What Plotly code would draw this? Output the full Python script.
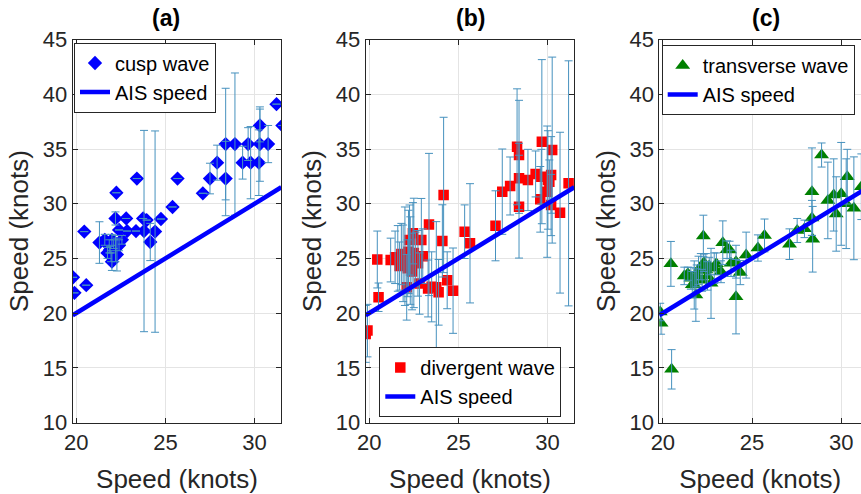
import plotly.graph_objects as go

# ---------------- data ----------------
# Panel (a): cusp wave
cusp_x = [19.82, 19.9, 20.56, 20.45, 21.3, 21.6, 21.75, 21.85, 22.0, 22.0, 22.2, 22.28, 22.2, 22.25,
          22.4, 22.56, 22.8, 22.85, 23.35, 23.4, 23.75, 23.8, 23.95, 24.15, 24.42, 24.75, 25.4, 25.68,
          27.1, 27.5, 27.9, 28.38, 28.38, 28.9, 29.33, 29.64, 29.78, 30.24, 30.3, 30.3, 30.76, 31.23, 31.56,
          21.95, 22.1, 21.9, 22.4]
cusp_y = [23.27, 21.85, 22.55, 27.45, 26.45, 26.7, 25.5, 26.1, 26.7, 24.7, 25.9, 25.35, 28.65, 31.0,
          27.6, 26.7, 28.65, 27.5, 27.5, 32.3, 28.65, 27.5, 28.5, 26.5, 27.45, 28.6, 29.7, 32.3,
          30.95, 32.3, 33.75, 35.45, 32.3, 35.45, 33.75, 35.45, 33.75, 33.75, 35.45, 37.15, 35.45, 39.1, 37.15,
          25.2, 26.3, 25.8, 26.2]
cusp_err = [0, 0, 0, 0, 1.9, 0.5, 0.5, 0.6, 0.5, 0.8, 1.2, 1.5, 0.6, 0,
            0, 0.4, 0, 0, 0, 0, 0, 9.2, 0, 1.7, 9.2, 0, 0, 0,
            0, 1.4, 1.6, 5.1, 3.4, 6.5, 1.5, 1.5, 3.3, 3.0, 3.4, 1.5, 1.7, 0, 0,
            0.5, 0.4, 0.3, 0.5]

# Panel (b): divergent wave
div_x = [19.8, 19.9, 20.45, 20.52, 21.2, 21.45, 21.6, 21.7, 21.8, 21.9, 22.0, 22.1, 22.16, 22.2,
         22.26, 22.3, 22.4, 22.45, 22.5, 22.6, 22.73, 22.82, 22.92, 23.0, 23.35, 23.3, 23.5, 23.76,
         23.89, 24.1, 24.17, 24.37, 24.7, 25.35, 25.65, 27.08, 27.46, 27.9, 28.29, 28.4, 28.4, 28.4,
         28.9, 29.33, 29.59, 29.65, 29.68, 29.98, 30.02, 30.1, 30.2, 30.26, 30.2, 30.7, 31.18]
div_y = [18.1, 18.4, 24.9, 21.45, 24.85, 25.1, 25.0, 24.3, 25.4, 24.55, 25.2, 22.36, 24.1, 25.6,
         26.68, 24.8, 23.8, 27.3, 25.5, 24.9, 24.55, 22.7, 26.68, 25.2, 28.1, 22.25, 22.4, 22.36,
         21.9, 26.6, 30.8, 23.0, 22.05, 27.44, 26.38, 27.98, 31.1, 31.62, 35.2, 34.45, 32.32, 29.73,
         32.17, 32.72, 30.4, 32.47, 35.67, 31.1, 32.17, 32.0, 32.63, 34.9, 29.88, 29.18, 31.86]
div_err = [2.6, 2.4, 2.6, 1.3, 2.0, 2.4, 3.0, 2.2, 2.8, 3.5, 4.5, 3.0, 2.6, 3.8,
           3.2, 4.0, 3.5, 2.8, 5.0, 2.5, 3.0, 2.8, 3.8, 2.5, 6.5, 2.6, 3.2, 6.0,
           3.0, 3.3, 7.1, 2.6, 3.9, 2.45, 5.45, 3.2, 3.9, 2.65, 5.3, 5.0, 3.2, 4.7,
           2.8, 2.1, 3.0, 2.5, 7.5, 6.0, 4.5, 2.0, 3.5, 8.5, 2.8, 7.35, 11.2]

# Panel (c): transverse wave
tr_x = [19.85, 19.9, 20.45, 20.49, 21.2, 21.4, 21.57, 21.65, 21.76, 21.85, 21.9, 22.0, 22.13, 22.2,
        22.27, 22.3, 22.41, 22.5, 22.7, 22.6, 22.88, 23.0, 23.26, 23.36, 23.6, 23.74, 23.82, 24.1,
        24.1, 24.34, 24.67, 25.33, 25.7, 27.1, 27.53, 27.94, 28.36, 28.36, 28.4, 28.9, 29.25, 29.58,
        29.72, 30.0, 30.28, 30.34, 30.71, 31.13]
tr_y = [20.1, 19.07, 24.5, 14.86, 23.4, 23.6, 23.18, 22.6, 22.57, 21.65, 23.4, 23.9, 24.24, 23.0,
        27.05, 24.6, 23.94, 23.4, 22.72, 24.3, 24.1, 24.5, 23.78, 26.43, 25.8, 25.77, 24.55, 24.7,
        21.5, 23.7, 25.3, 25.95, 27.1, 26.3, 27.55, 27.7, 28.7, 31.1, 26.75, 34.45, 30.3, 30.8,
        29.06, 30.9, 30.0, 32.47, 29.58, 31.55]
tr_err = [0.8, 1.0, 2.05, 1.8, 0.8, 0.6, 1.0, 1.2, 2.2, 2.4, 1.0, 1.3, 1.2, 1.0,
          1.9, 0.8, 1.5, 1.3, 3.2, 0.8, 1.4, 1.0, 1.0, 2.0, 0.8, 0.8, 1.2, 1.5,
          3.4, 1.1, 2.1, 1.2, 1.5, 1.4, 1.1, 0.8, 1.6, 4.0, 3.0, 1.1, 3.5, 3.3,
          3.4, 4.7, 4.1, 2.5, 4.7, 3.0]

# AIS speed reference line (y = x)
ais_x = [19.8, 31.5]
ais_y = [19.8, 31.5]

x_ticks = [20, 25, 30]
y_ticks = [10, 15, 20, 25, 30, 35, 40, 45]
panel_titles = ["(a)", "(b)", "(c)"]

# ---------------- styling ----------------
W, H = 861, 494
FONT = "Liberation Sans, Arial, sans-serif"
TXT = "#262626"
ERR_COLOR = "rgb(70,145,190)"
AIS_COLOR = "rgb(0,0,255)"

fig = go.Figure()

panels = [
    dict(x=cusp_x, y=cusp_y, e=cusp_err, name="cusp wave", color="rgb(0,0,255)",
         symbol="diamond", size=11, legend="legend"),
    dict(x=div_x, y=div_y, e=div_err, name="divergent wave", color="rgb(255,0,0)",
         symbol="square", size=10.5, legend="legend2"),
    dict(x=tr_x, y=tr_y, e=tr_err, name="transverse wave", color="rgb(0,128,0)",
         symbol="triangle-up", size=13, legend="legend3"),
]

for i, p in enumerate(panels):
    suf = "" if i == 0 else str(i + 1)
    xa, ya = "x" + suf, "y" + suf
    fig.add_trace(go.Scatter(
        x=p["x"], y=p["y"], mode="markers", name=p["name"],
        marker=dict(symbol=p["symbol"], size=p["size"], color=p["color"], line=dict(width=0)),
        xaxis=xa, yaxis=ya, legend=p["legend"]))
    fig.add_trace(go.Scatter(
        x=p["x"], y=p["y"], mode="markers", showlegend=False,
        marker=dict(size=1, opacity=0),
        error_y=dict(type="data", array=p["e"], visible=True, color=ERR_COLOR,
                     thickness=1, width=4),
        xaxis=xa, yaxis=ya, legend=p["legend"], hoverinfo="skip"))
    fig.add_trace(go.Scatter(
        x=ais_x, y=ais_y, mode="lines", name="AIS speed",
        line=dict(color=AIS_COLOR, width=4.5),
        xaxis=xa, yaxis=ya, legend=p["legend"]))

x_dom_px = [(72.7, 281.3), (365.7, 574.3), (659.3, 861.0)]
x_ranges = [[19.8, 31.5], [19.8, 31.5], [19.8, 31.11]]
y_top_px, y_bot_px = 39.6, 422.5
y_dom = [1 - y_bot_px / H, 1 - y_top_px / H]
title_cx_px = [166, 471, 766]

axis_common = dict(
    automargin=False,
    showline=True, linecolor=TXT, linewidth=1,
    ticks="inside", ticklen=5, tickcolor=TXT, tickwidth=1,
    showgrid=True, gridcolor="#e4e4e4", gridwidth=1, zeroline=False,
    tickfont=dict(family=FONT, size=22, color=TXT),
)

layout = dict(
    width=W, height=H, margin=dict(l=0, r=0, t=0, b=0, autoexpand=False),
    paper_bgcolor="white", plot_bgcolor="white",
    font=dict(family=FONT, color=TXT),
)

for i in range(3):
    suf = "" if i == 0 else str(i + 1)
    l, r = x_dom_px[i]
    layout["xaxis" + suf] = dict(
        axis_common, domain=[l / W, r / W], range=x_ranges[i],
        tickvals=x_ticks, anchor="y" + suf,
        mirror="ticks",
        title=dict(text="Speed (knots)", font=dict(family=FONT, size=26, color=TXT), standoff=15),
    )
    layout["yaxis" + suf] = dict(
        axis_common, domain=y_dom, range=[10, 45],
        tickvals=y_ticks, anchor="x" + suf,
        mirror=("ticks" if i < 2 else False),
        title=dict(text="Speed (knots)", font=dict(family=FONT, size=26, color=TXT), standoff=6),
    )

legend_common = dict(
    bgcolor="white", bordercolor="#262626", borderwidth=1,
    font=dict(family=FONT, size=20, color="black"),
    tracegroupgap=0, itemwidth=30,
)
layout["legend"] = dict(legend_common, x=74 / W, y=1 - 42.5 / H, xanchor="left", yanchor="top")
layout["legend2"] = dict(legend_common, x=379.3 / W, y=1 - 417 / H, xanchor="left", yanchor="bottom")
layout["legend3"] = dict(legend_common, x=661.7 / W, y=1 - 45 / H, xanchor="left", yanchor="top")

fig.update_layout(**layout)

for i, t in enumerate(panel_titles):
    fig.add_annotation(
        text="<b>%s</b>" % t, x=title_cx_px[i] / W, y=1 - 18 / H, xref="paper", yref="paper",
        showarrow=False, xanchor="center", yanchor="middle",
        font=dict(family=FONT, size=23, color="black"))

fig.write_html("out.html")
